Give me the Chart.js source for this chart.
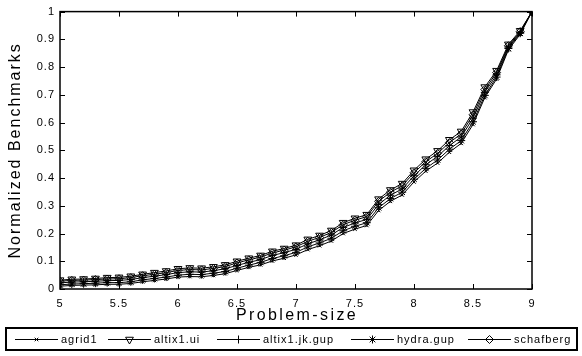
<!DOCTYPE html>
<html>
<head>
<meta charset="utf-8">
<script src="https://cdn.jsdelivr.net/npm/chart.js@4/dist/chart.umd.min.js"></script>
<style>
  body { margin: 0; background: #fff; }
  #myChart { display: block; }
</style>
</head>
<body>
<canvas id="myChart" width="582" height="356"></canvas>
<script>
// problem size (x axis)
var problemSize = [5.0, 5.1, 5.2, 5.3, 5.4, 5.5, 5.6, 5.7, 5.8, 5.9,
                   6.0, 6.1, 6.2, 6.3, 6.4, 6.5, 6.6, 6.7, 6.8, 6.9,
                   7.0, 7.1, 7.2, 7.3, 7.4, 7.5, 7.6, 7.7, 7.8, 7.9,
                   8.0, 8.1, 8.2, 8.3, 8.4, 8.5, 8.6, 8.7, 8.8, 8.9, 9.0];

// normalized benchmarks, one list per machine
var agrid1 = [0.010, 0.013, 0.014, 0.015, 0.017, 0.017, 0.020, 0.026, 0.031, 0.036,
              0.043, 0.045, 0.044, 0.049, 0.055, 0.067, 0.078, 0.087, 0.101, 0.111,
              0.123, 0.142, 0.156, 0.173, 0.200, 0.216, 0.229, 0.283, 0.316, 0.339,
              0.386, 0.425, 0.454, 0.493, 0.525, 0.593, 0.690, 0.757, 0.862, 0.918, 1.0];
var altix1Ui = [0.032, 0.035, 0.036, 0.038, 0.041, 0.042, 0.046, 0.053, 0.059, 0.065,
                0.073, 0.076, 0.075, 0.080, 0.087, 0.100, 0.111, 0.121, 0.136, 0.146,
                0.158, 0.179, 0.193, 0.211, 0.239, 0.255, 0.268, 0.324, 0.357, 0.380,
                0.428, 0.468, 0.498, 0.538, 0.568, 0.638, 0.728, 0.787, 0.882, 0.931, 1.0];
var altix1JkGup = [0.022, 0.025, 0.026, 0.028, 0.030, 0.031, 0.034, 0.041, 0.046, 0.052,
                   0.059, 0.062, 0.061, 0.066, 0.073, 0.085, 0.096, 0.106, 0.121, 0.131,
                   0.143, 0.163, 0.177, 0.195, 0.222, 0.238, 0.251, 0.305, 0.338, 0.361,
                   0.408, 0.448, 0.478, 0.517, 0.548, 0.616, 0.709, 0.772, 0.872, 0.925, 1.0];
var hydraGup = [0.015, 0.018, 0.019, 0.021, 0.023, 0.023, 0.026, 0.033, 0.038, 0.043,
                0.050, 0.053, 0.052, 0.057, 0.063, 0.075, 0.086, 0.096, 0.110, 0.120,
                0.132, 0.152, 0.166, 0.183, 0.210, 0.226, 0.239, 0.293, 0.326, 0.349,
                0.396, 0.435, 0.465, 0.504, 0.535, 0.603, 0.698, 0.764, 0.867, 0.922, 1.0];
var schafberg = [0.028, 0.031, 0.032, 0.034, 0.036, 0.037, 0.041, 0.048, 0.053, 0.059,
                 0.067, 0.070, 0.069, 0.074, 0.081, 0.094, 0.105, 0.115, 0.130, 0.140,
                 0.152, 0.172, 0.186, 0.204, 0.232, 0.248, 0.261, 0.316, 0.349, 0.372,
                 0.419, 0.459, 0.489, 0.528, 0.559, 0.628, 0.719, 0.780, 0.877, 0.928, 1.0];

var seriesNames = ['agrid1', 'altix1.ui', 'altix1.jk.gup', 'hydra.gup', 'schafberg'];
var seriesValues = [agrid1, altix1Ui, altix1JkGup, hydraGup, schafberg];

var xTitle = 'Problem-size';
var yTitle = 'Normalized Benchmarks';

var FONT = "'Liberation Sans', Arial, Helvetica, sans-serif";

// marker look for each series (matlab style)
var markers = [
    { pointStyle: 'crossRot', radius: 2.5, rotation: 0 },
    { pointStyle: 'triangle', radius: 4.5, rotation: 180 },
    { pointStyle: 'cross', radius: 4, rotation: 0 },
    { pointStyle: 'star', radius: 4, rotation: 0 },
    { pointStyle: 'rectRot', radius: 4, rotation: 0 }
];

function toPoints(vals) {
    var pts = [];
    for (var i = 0; i < vals.length; i++) {
        pts.push({ x: problemSize[i], y: vals[i] });
    }
    return pts;
}

var datasets = [];
for (var s = 0; s < seriesNames.length; s++) {
    datasets.push({
        label: seriesNames[s],
        data: toPoints(seriesValues[s]),
        borderColor: '#000',
        borderWidth: 1,
        backgroundColor: 'rgba(0,0,0,0)',
        pointStyle: markers[s].pointStyle,
        pointRadius: markers[s].radius,
        pointRotation: markers[s].rotation,
        pointBorderColor: '#000',
        pointBorderWidth: 1,
        pointBackgroundColor: 'rgba(0,0,0,0)',
        tension: 0,
        fill: false
    });
}

// tick text like matlab: 5, 5.5, 0, 0.1, 1
function tickText(value) {
    return String(Number(value.toFixed(2)));
}

// legend box at the bottom (drawn by hand, matlab-like)
var legendLineStart = [15, 108, 217, 351, 468];

function drawMarker(ctx, m, x, y) {
    if (Chart.helpers && Chart.helpers.drawPoint) {
        ctx.save();
        ctx.fillStyle = 'rgba(0,0,0,0)';
        ctx.strokeStyle = '#000';
        Chart.helpers.drawPoint(ctx, {
            pointStyle: m.pointStyle,
            rotation: m.rotation,
            radius: m.radius,
            borderWidth: 1
        }, x, y);
        ctx.restore();
    }
}

const framePlugin = {
    id: 'frame',
    beforeDraw: function (chart) {
        chart.ctx.letterSpacing = '1px';
    },
    afterDraw: function (chart) {
        var ctx = chart.ctx;
        var a = chart.chartArea;
        var xs = chart.scales.x, ys = chart.scales.y;
        ctx.save();
        ctx.strokeStyle = '#000';
        ctx.fillStyle = '#000';

        // inward ticks on all four sides
        ctx.lineWidth = 1;
        ctx.beginPath();
        xs.ticks.forEach(function (t) {
            var px = Math.round(xs.getPixelForValue(t.value)) + 0.5;
            ctx.moveTo(px, a.bottom); ctx.lineTo(px, a.bottom - 5);
            ctx.moveTo(px, a.top); ctx.lineTo(px, a.top + 5);
        });
        ys.ticks.forEach(function (t) {
            var py = Math.round(ys.getPixelForValue(t.value)) + 0.5;
            ctx.moveTo(a.left, py); ctx.lineTo(a.left + 5, py);
            ctx.moveTo(a.right, py); ctx.lineTo(a.right - 5, py);
        });
        ctx.stroke();

        // axes box
        ctx.lineWidth = 1.5;
        ctx.strokeRect(a.left, a.top, a.right - a.left, a.bottom - a.top);

        // axis titles
        ctx.letterSpacing = '2.4px';
        ctx.font = '16px ' + FONT;
        ctx.textAlign = 'center';
        ctx.textBaseline = 'middle';
        ctx.fillText(xTitle, (a.left + a.right) / 2 + 1, 316);
        ctx.save();
        ctx.translate(16, (a.top + a.bottom) / 2);
        ctx.rotate(-Math.PI / 2);
        ctx.letterSpacing = '2px';
        ctx.fillText(yTitle, 0, 0);
        ctx.restore();

        // legend
        ctx.lineWidth = 2;
        ctx.strokeRect(6, 328, 571, 22);
        ctx.letterSpacing = '1px';
        ctx.font = '11px ' + FONT;
        ctx.textAlign = 'left';
        var ly = 339.5;
        for (var i = 0; i < seriesNames.length; i++) {
            var x0 = legendLineStart[i];
            ctx.lineWidth = 1;
            ctx.beginPath();
            ctx.moveTo(x0, ly);
            ctx.lineTo(x0 + 43, ly);
            ctx.stroke();
            drawMarker(ctx, markers[i], x0 + 21.5, ly);
            ctx.fillStyle = '#000';
            ctx.fillText(seriesNames[i], x0 + 46, ly);
        }
        ctx.restore();
    }
};

const config = {
    type: 'line',
    data: { datasets: datasets },
    options: {
        responsive: false,
        animation: false,
        devicePixelRatio: 1,
        layout: { padding: { top: 9, right: 50, bottom: 27, left: 0 } },
        scales: {
            x: {
                type: 'linear',
                min: 5, max: 9,
                grid: { display: false, drawTicks: false },
                border: { display: false },
                ticks: { stepSize: 0.5, color: '#000', padding: 8, font: { family: FONT, size: 11 },
                         callback: tickText },
                afterFit: function (scale) { scale.height = 40; }
            },
            y: {
                min: 0, max: 1,
                grid: { display: false, drawTicks: false },
                border: { display: false },
                ticks: { stepSize: 0.1, color: '#000', padding: 5, font: { family: FONT, size: 11 },
                         callback: tickText },
                afterFit: function (scale) { scale.width = 60; }
            }
        },
        plugins: {
            legend: { display: false },
            tooltip: { enabled: false }
        }
    },
    plugins: [framePlugin]
};

window.myLine = new Chart(document.getElementById('myChart'), config);
</script>
</body>
</html>
